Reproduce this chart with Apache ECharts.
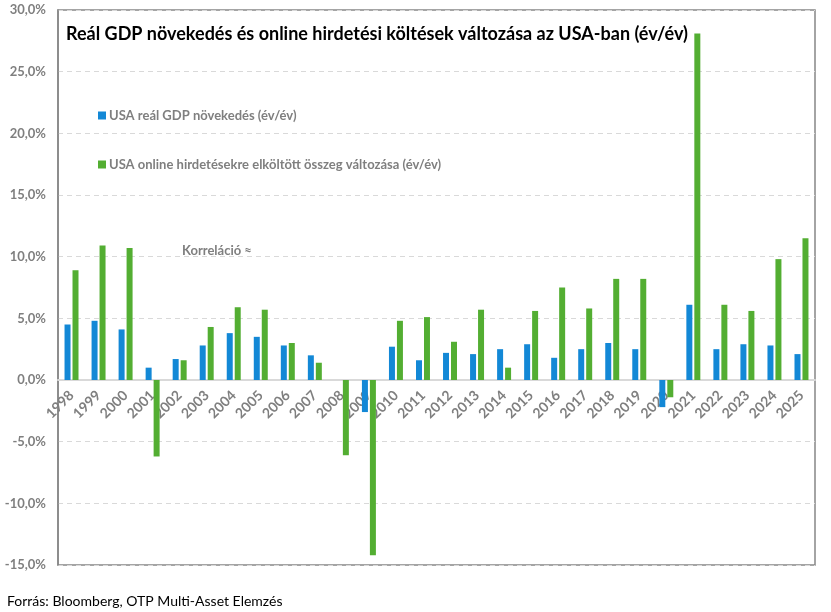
<!DOCTYPE html>
<html>
<head>
<meta charset="utf-8">
<script src="https://cdn.jsdelivr.net/npm/echarts@6/dist/echarts.min.js"></script>
<style>
html,body{margin:0;padding:0;background:#fff;}
#chart{width:831px;height:612px;}
</style>
</head>
<body>
<div id="chart"></div>
<script>
const years = ['1998','1999','2000','2001','2002','2003','2004','2005','2006','2007','2008','2009','2010','2011','2012','2013','2014','2015','2016','2017','2018','2019','2020','2021','2022','2023','2024','2025'];
const gdpGrowth = [4.5,4.8,4.1,1.0,1.7,2.8,3.8,3.5,2.8,2.0,0.0,-2.6,2.7,1.6,2.2,2.1,2.5,2.9,1.8,2.5,3.0,2.5,-2.2,6.1,2.5,2.9,2.8,2.1];
const onlineAdChange = [8.9,10.9,10.7,-6.2,1.6,4.3,5.9,5.7,3.0,1.4,-6.1,-14.2,4.8,5.1,3.1,5.7,1.0,5.6,7.5,5.8,8.2,8.2,-1.4,28.1,6.1,5.6,9.8,11.5];
const seriesNames = ['USA reál GDP növekedés (év/év)', 'USA online hirdetésekre elköltött összeg változása (év/év)'];
const titleText = 'Reál GDP növekedés és online hirdetési költések változása az USA-ban (év/év)';
const noteText = 'Korreláció ≈';
const sourceText = 'Forrás: Bloomberg, OTP Multi-Asset Elemzés';

const FONT = 'Lato';
const Y_MIN = -15, Y_MAX = 30;
const GRID_TOP = 10, GRID_BOTTOM = 47, H = 612;
const plotH = H - GRID_TOP - GRID_BOTTOM;
const zeroOffset = -plotH * (0 - Y_MIN) / (Y_MAX - Y_MIN);

const chart = echarts.init(document.getElementById('chart'), null, {renderer:'canvas'});
chart.setOption({
  animation:false,
  backgroundColor:'#ffffff',
  grid:{left:58,right:16,top:GRID_TOP,bottom:GRID_BOTTOM,show:true,borderColor:'#868686',borderWidth:1.5,containLabel:false},
  title:{text:titleText,left:61,top:20,textStyle:{fontFamily:FONT,fontSize:18,fontWeight:'bold',color:'#000'}},
  legend:{orient:'vertical',left:93,top:104,itemGap:36,itemWidth:8,itemHeight:8,icon:'rect',
    textStyle:{fontFamily:FONT,fontSize:13,fontWeight:'bold',color:'#7f7f7f',padding:[0,0,0,-2]},
    data:seriesNames},
  graphic:[
    {type:'text',left:182,top:244,style:{text:noteText,fontFamily:FONT,fontSize:13,fontWeight:'bold',fill:'#7f7f7f'}},
    {type:'text',left:7,top:594,style:{text:sourceText,fontFamily:FONT,fontSize:14,fill:'#000'}}
  ],
  xAxis:{type:'category',data:years,position:'bottom',offset:zeroOffset,
    axisLine:{onZero:false,lineStyle:{color:'#d9d9d9',width:2}},
    axisTick:{show:false},
    axisLabel:{rotate:45,margin:13,interval:0,fontFamily:FONT,fontSize:14,fontWeight:'bold',color:'#7f7f7f'},
    z:1},
  yAxis:{type:'value',min:Y_MIN,max:Y_MAX,interval:5,
    axisLine:{show:true,lineStyle:{color:'#868686',width:1.5}},
    axisTick:{show:false},
    splitLine:{lineStyle:{color:'#d9d9d9',type:[5,4],width:1}},
    axisLabel:{margin:12,fontFamily:FONT,fontSize:13,fontWeight:'bold',color:'#7f7f7f',
      formatter:v=>v.toFixed(1).replace('.',',')+'%'}},
  series:[
    {name:seriesNames[0],type:'bar',data:gdpGrowth,barWidth:6,barGap:'33%',itemStyle:{color:'#1388D6'},z:3},
    {name:seriesNames[1],type:'bar',data:onlineAdChange,barWidth:6,itemStyle:{color:'#53AE32'},z:3}
  ]
});
</script>
</body>
</html>
